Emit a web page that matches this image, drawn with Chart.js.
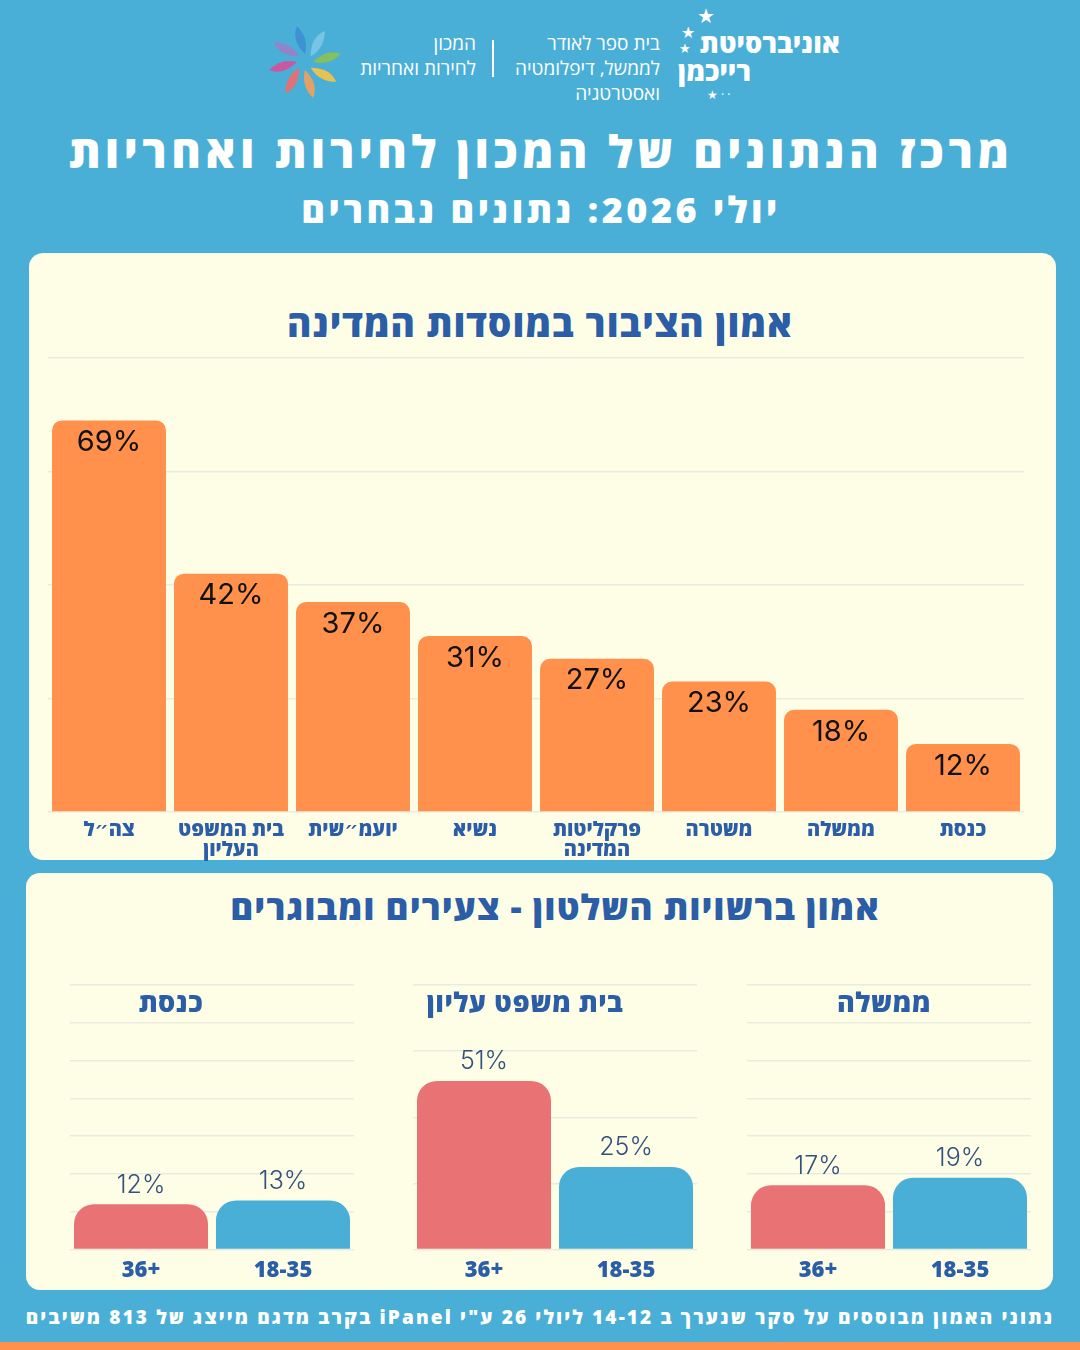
<!DOCTYPE html>
<html>
<head>
<meta charset="utf-8">
<script src="https://cdn.jsdelivr.net/npm/chart.js@4.4.0/dist/chart.umd.min.js"></script>
<style>
  html, body { margin:0; padding:0; }
  body { width:1080px; height:1350px; background:#4aafd6; position:relative; overflow:hidden; font-family:"Open Sans","DejaVu Sans",sans-serif; }
  .abs { position:absolute; }
  .rtl { direction:rtl; }
  .white { color:#fff; }
  .card { position:absolute; background:#fefee6; border-radius:14px; }
  .heb-title { font-weight:800; color:#2b5ea7; text-align:center; white-space:nowrap; }
  .box { position:absolute; }
</style>
</head>
<body>

<!-- header logos -->
<canvas id="flower" class="abs" width="80" height="80" style="left:265px;top:22px;"></canvas>
<div class="abs rtl white" style="right:604px;top:31px;font-size:19px;line-height:25px;text-align:right;white-space:nowrap;">המכון<br>לחירות ואחריות</div>
<div class="abs" style="left:492px;top:40px;width:2px;height:37px;background:#fff;"></div>
<div class="abs rtl white" style="right:420px;top:31px;font-size:19px;line-height:25px;text-align:right;white-space:nowrap;">בית ספר לאודר<br>לממשל, דיפלומטיה<br>ואסטרטגיה</div>
<div class="abs rtl white" style="right:240px;top:29px;font-size:27px;font-weight:800;line-height:28px;white-space:nowrap;">אוניברסיטת</div>
<div class="abs rtl white" style="left:678px;top:57px;font-size:27px;font-weight:800;line-height:28px;white-space:nowrap;">רייכמן</div>
<div class="abs white" style="left:697px;top:2px;font-size:20px;">★</div>
<div class="abs white" style="left:681px;top:21px;font-size:16px;">★</div>
<div class="abs white" style="left:679px;top:39px;font-size:13px;">★</div>
<div class="abs white" style="left:707px;top:86px;font-size:12px;">★ · ·</div>

<!-- main titles -->
<div class="abs rtl white" style="left:0;width:1082px;top:120px;text-align:center;font-size:45px;font-weight:800;letter-spacing:4.4px;white-space:nowrap;">מרכז הנתונים של המכון לחירות ואחריות</div>
<div class="abs rtl white" style="left:0;width:1082px;top:185px;text-align:center;font-size:36px;font-weight:800;letter-spacing:3.5px;white-space:nowrap;">יולי 2026: נתונים נבחרים</div>

<!-- card 1 -->
<div class="card" style="left:29px;top:253px;width:1027px;height:607px;"></div>
<div class="abs rtl heb-title" style="left:29px;width:1022px;top:297px;font-size:37px;letter-spacing:1px;">אמון הציבור במוסדות המדינה</div>
<div class="box" style="left:48px;top:340px;width:976px;height:528px;"><canvas id="allChart"></canvas></div>

<!-- card 2 -->
<div class="card" style="left:26px;top:873px;width:1027px;height:417px;"></div>
<div class="abs rtl heb-title" style="left:40px;width:1030px;top:883px;font-size:35px;letter-spacing:1px;">אמון ברשויות השלטון - צעירים ומבוגרים</div>
<div class="box" style="left:70px;top:970px;width:284px;height:322px;"><canvas id="knessetChart"></canvas></div>
<div class="box" style="left:413px;top:970px;width:284px;height:322px;"><canvas id="courtChart"></canvas></div>
<div class="box" style="left:747px;top:970px;width:284px;height:322px;"><canvas id="govChart"></canvas></div>
<div class="abs rtl heb-title" style="left:71px;width:200px;top:983px;font-size:27px;letter-spacing:0.5px;">כנסת</div>
<div class="abs rtl heb-title" style="left:395px;width:260px;top:983px;font-size:27px;letter-spacing:0.5px;">בית משפט עליון</div>
<div class="abs rtl heb-title" style="left:784px;width:200px;top:983px;font-size:27px;letter-spacing:0.5px;">ממשלה</div>

<!-- footer -->
<div class="abs rtl white" style="left:0;width:1080px;top:1304px;text-align:center;font-size:19px;font-weight:800;letter-spacing:2.15px;white-space:nowrap;">נתוני האמון מבוססים על סקר שנערך ב 14-12 ליולי 26 ע"י iPanel בקרב מדגם מייצג של 813 משיבים</div>
<div class="abs" style="left:0;top:1342px;width:1080px;height:8px;background:#ff914d;"></div>

<script>
// data
const institutions = ['צה״ל', ['בית המשפט', 'העליון'], 'יועמ״שית', 'נשיא', ['פרקליטות', 'המדינה'], 'משטרה', 'ממשלה', 'כנסת'];
const trustAll = [69, 42, 37, 31, 27, 23, 18, 12];

const ageGroups = ['36+', '18-35'];
const trustKnesset = [12, 13];
const trustCourt = [51, 25];
const trustGov = [17, 19];

const BLUE_TEXT = '#2b5ea7';
const GRID = '#e9ebdf';

// little flower logo
function drawFlower(){
    var c = document.getElementById('flower').getContext('2d');
    var cols = ['#3d8fd1','#7cc6e8','#8cc152','#f6c445','#f5a05a','#ee6b6b','#d6509a','#9b7fc9'];
    c.translate(40, 40);
    for (var i = 0; i < cols.length; i++) {
        c.save();
        c.rotate(i * Math.PI / 4 - Math.PI / 2);
        c.fillStyle = cols[i];
        c.globalAlpha = 0.9;
        c.beginPath();
        c.moveTo(8, 0);
        c.quadraticCurveTo(22, -14, 36, -8);
        c.quadraticCurveTo(24, 4, 8, 0);
        c.fill();
        c.restore();
    }
}
drawFlower();

// draws "NN%" on each bar
const valueLabels = {
    id: 'valueLabels',
    afterDatasetsDraw(chart, args, opts){
        var ctx = chart.ctx;
        var meta = chart.getDatasetMeta(0);
        ctx.save();
        ctx.font = opts.font;
        ctx.fillStyle = opts.color;
        ctx.textAlign = 'center';
        ctx.textBaseline = 'middle';
        meta.data.forEach((bar, i) => {
            ctx.fillText(chart.data.datasets[0].data[i] + '%', bar.x, bar.y + opts.offset);
        });
        ctx.restore();
    }
};

function addAllChart(){
    var ctx = document.getElementById('allChart').getContext('2d');
    new Chart(ctx, {
        type: 'bar',
        data: {
            labels: institutions,
            datasets: [{ data: trustAll, backgroundColor: '#ff914d', borderRadius: 10, borderSkipped: 'start',
                         barPercentage: 0.934, categoryPercentage: 1 }]
        },
        options: {
            responsive: true,
            maintainAspectRatio: false,
            animation: false,
            layout: { padding: { top: 18, left: 0, right: 0, bottom: 0 } },
            plugins: {
                legend: { display: false },
                tooltip: { enabled: false },
                valueLabels: { font: '29px Inter, sans-serif', color: '#111', offset: 22 }
            },
            scales: {
                y: { min: 0, max: 80, ticks: { display: false, stepSize: 20 },
                     grid: { color: GRID, lineWidth: 1.5, drawTicks: false }, border: { display: false } },
                x: { grid: { display: false, drawTicks: false }, border: { display: false },
                     ticks: { color: BLUE_TEXT, padding: 8, font: { family: 'Open Sans, DejaVu Sans', size: 20, weight: '800', lineHeight: 1.0 } } }
            }
        },
        plugins: [valueLabels]
    });
}

function addAgeChart(id, values, max, step){
    var ctx = document.getElementById(id).getContext('2d');
    new Chart(ctx, {
        type: 'bar',
        data: {
            labels: ageGroups,
            datasets: [{ data: values, backgroundColor: ['#e97374', '#4aafd6'], borderRadius: 20, borderSkipped: 'start',
                         barPercentage: 0.944, categoryPercentage: 1 }]
        },
        options: {
            responsive: true,
            maintainAspectRatio: false,
            animation: false,
            layout: { padding: { top: 15, left: 0, right: 0, bottom: 0 } },
            plugins: {
                legend: { display: false },
                tooltip: { enabled: false },
                valueLabels: { font: '300 25px Inter, sans-serif', color: '#34517d', offset: -19 }
            },
            scales: {
                y: { min: 0, max: max, ticks: { display: false, stepSize: step },
                     grid: { color: GRID, lineWidth: 1.5, drawTicks: false }, border: { display: false } },
                x: { grid: { display: false, drawTicks: false }, border: { display: false },
                     ticks: { color: BLUE_TEXT, padding: 8, font: { family: 'Open Sans, DejaVu Sans', size: 22, weight: '800', lineHeight: 1.2 } } }
            }
        },
        plugins: [valueLabels]
    });
}

addAllChart();
addAgeChart('knessetChart', trustKnesset, 70, 10);
addAgeChart('courtChart', trustCourt, 80, 20);
addAgeChart('govChart', trustGov, 70, 10);
</script>
</body>
</html>
